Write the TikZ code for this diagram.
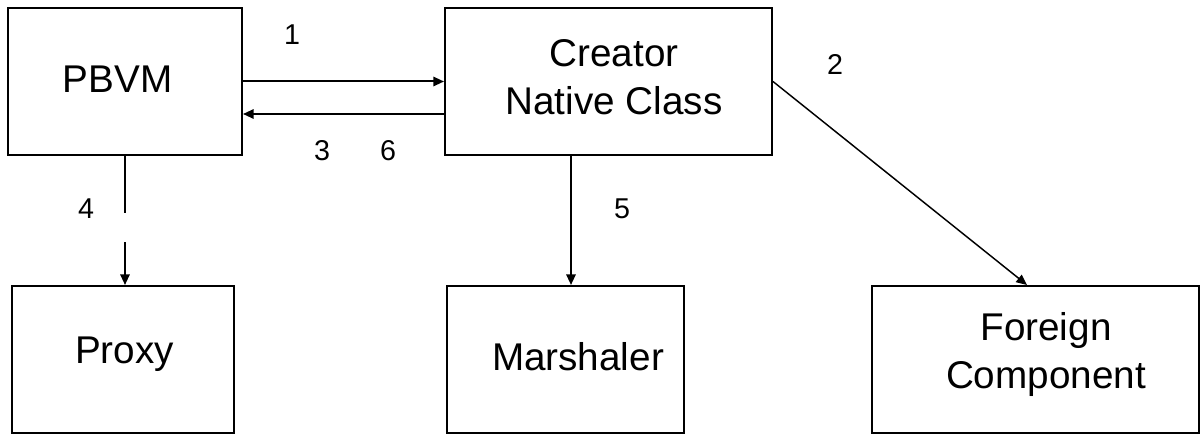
\documentclass[tikz,border=0pt]{standalone}
\usepackage{fontspec}
\setmainfont{Liberation Sans}
\usetikzlibrary{arrows.meta,calc}
\begin{document}
\begin{tikzpicture}[x=0.75pt,y=-0.75pt,
  box/.style={draw,line width=1.5pt,inner sep=0pt,minimum width=#1,minimum height=110.25pt},
  boxtext/.style={font=\fontsize{29}{36}\selectfont,align=center,inner sep=0pt,anchor=base},
  num/.style={font=\fontsize{21.5}{26}\selectfont,inner sep=0pt},
  conn/.style={line width=1.5pt,-{Triangle[length=8pt,width=7pt]}},
  thin/.style={line width=1.1pt,-{Triangle[length=8pt,width=7pt]}},
  plain/.style={line width=1.5pt}]
\useasboundingbox (0,0) rectangle (1200,435);
% boxes
\node[box=175.5pt] (pbvm) at (125,81.5) {};
\node[box=245.25pt] (creator) at (608.5,81.5) {};
\node[box=166.5pt] (proxy) at (123,359.5) {};
\node[box=177.75pt] (marsh) at (565.5,359.5) {};
\node[box=245.25pt] (foreign) at (1035.5,359.5) {};
% texts
\node[boxtext] (pbvmt) at (117.5,93) {PBVM};
\node[boxtext] (creatort) at (614,115) {Creator\\Native Class};
\node[boxtext] (proxyt) at (124.5,363) {Proxy};
\node[boxtext] (marsht) at (578,370) {Marshaler};
\node[boxtext] (foreignt) at (1046,388) {Foreign\\Component};
% connectors
\draw[conn] (pbvm.east) -- (creator.west);
\draw[conn] ($(creator.west)+(0,32.5)$) -- ($(pbvm.east)+(0,32.5)$);
\coordinate (b4) at (125,213);
\coordinate (t4) at (125,242);
\draw[plain] (pbvm.south) -- (b4);
\draw[conn] (t4) -- (t4 |- proxy.north);
\coordinate (s5) at ($(creator.south)+(-37.5,0)$);
\draw[conn] (s5) -- (s5 |- marsh.north);
\draw[thin] (creator.east) -- ($(foreign.north)+(-8.5,0)$);
% numbers
\node[num] (n1) at (292,35) {1};
\node[num] (n2) at (835,64) {2};
\node[num] (n3) at (322,151) {3};
\node[num] (n6) at (388,151) {6};
\node[num] (n4) at (86,209) {4};
\node[num] (n5) at (622,209) {5};
\end{tikzpicture}
\end{document}
